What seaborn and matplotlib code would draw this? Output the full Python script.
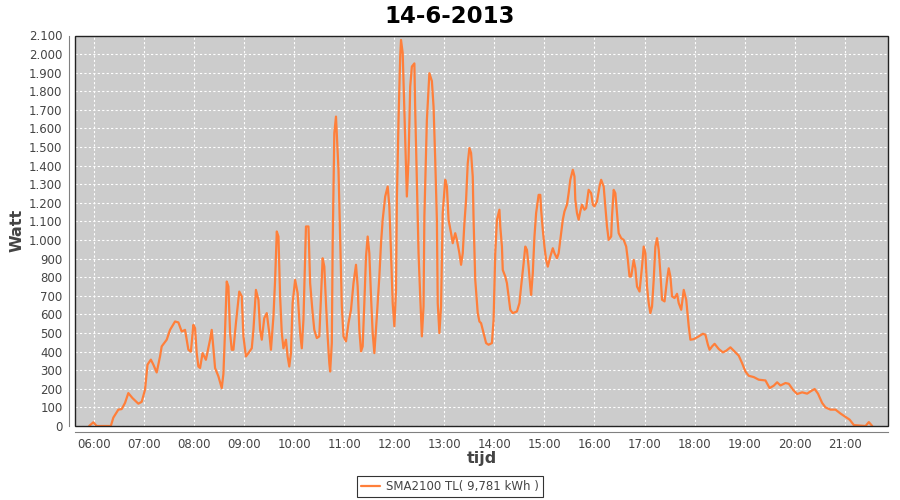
import numpy as np
import pandas as pd
import seaborn as sns
import matplotlib.pyplot as plt
import matplotlib.dates as mdates
import matplotlib.ticker as mticker
from matplotlib.patches import Rectangle

# data (time of day, watt)
times = ["05:54", "05:59", "06:03", "06:20", "06:23", "06:29", "06:33", "06:37", "06:41", "06:46",
         "06:53", "06:57", "07:01", "07:04", "07:08", "07:11", "07:15", "07:19", "07:21", "07:27",
         "07:31", "07:37", "07:41", "07:45", "07:49", "07:53", "07:56", "07:59", "08:01", "08:03",
         "08:05", "08:07", "08:10", "08:14", "08:19", "08:21", "08:23", "08:25", "08:29", "08:33",
         "08:35", "08:37", "08:39", "08:41", "08:43", "08:45", "08:47", "08:50", "08:54", "08:57",
         "08:59", "09:02", "09:05", "09:09", "09:11", "09:14", "09:17", "09:19", "09:21", "09:24",
         "09:27", "09:30", "09:32", "09:35", "09:37", "09:39", "09:41", "09:43", "09:45", "09:47",
         "09:50", "09:52", "09:54", "09:56", "09:58", "10:01", "10:04", "10:07", "10:09", "10:11",
         "10:13", "10:14", "10:17", "10:19", "10:22", "10:24", "10:27", "10:30", "10:32", "10:34",
         "10:36", "10:38", "10:40", "10:42", "10:43", "10:45", "10:46", "10:48", "10:50", "10:53",
         "10:55", "10:57", "10:59", "11:02", "11:05", "11:08", "11:11", "11:14", "11:16", "11:18",
         "11:20", "11:22", "11:24", "11:26", "11:28", "11:30", "11:32", "11:34", "11:36", "11:39",
         "11:42", "11:44", "11:46", "11:49", "11:52", "11:54", "11:56", "11:58", "12:00", "12:02",
         "12:03", "12:05", "12:07", "12:08", "12:10", "12:12", "12:14", "12:15", "12:17", "12:19",
         "12:21", "12:24", "12:25", "12:27", "12:29", "12:31", "12:33", "12:35", "12:36", "12:39",
         "12:42", "12:45", "12:47", "12:49", "12:51", "12:52", "12:54", "12:56", "12:58", "13:01",
         "13:03", "13:05", "13:08", "13:10", "13:13", "13:15", "13:18", "13:20", "13:22", "13:24",
         "13:26", "13:28", "13:30", "13:32", "13:34", "13:35", "13:37", "13:40", "13:42", "13:44",
         "13:47", "13:50", "13:53", "13:57", "13:59", "14:01", "14:03", "14:06", "14:07", "14:09",
         "14:10", "14:13", "14:15", "14:17", "14:19", "14:22", "14:27", "14:30", "14:32", "14:35",
         "14:37", "14:39", "14:41", "14:43", "14:44", "14:46", "14:48", "14:50", "14:53", "14:55",
         "14:56", "14:58", "15:00", "15:02", "15:04", "15:07", "15:10", "15:12", "15:15", "15:17",
         "15:19", "15:22", "15:24", "15:27", "15:29", "15:31", "15:34", "15:36", "15:37", "15:39",
         "15:41", "15:43", "15:45", "15:48", "15:50", "15:53", "15:56", "15:58", "16:00", "16:03",
         "16:06", "16:08", "16:11", "16:13", "16:15", "16:17", "16:20", "16:21", "16:23", "16:25",
         "16:27", "16:29", "16:32", "16:35", "16:38", "16:40", "16:42", "16:44", "16:47", "16:49",
         "16:51", "16:54", "16:57", "16:59", "17:01", "17:03", "17:05", "17:07", "17:09", "17:11",
         "17:13", "17:15", "17:17", "17:19", "17:21", "17:24", "17:27", "17:29", "17:31", "17:33",
         "17:36", "17:39", "17:41", "17:44", "17:47", "17:50", "17:53", "17:55", "17:59", "18:05",
         "18:10", "18:13", "18:16", "18:18", "18:21", "18:24", "18:29", "18:34", "18:38", "18:43",
         "18:47", "18:53", "18:57", "19:01", "19:05", "19:11", "19:17", "19:25", "19:30", "19:35",
         "19:39", "19:43", "19:49", "19:53", "19:58", "20:03", "20:09", "20:15", "20:19", "20:24",
         "20:28", "20:33", "20:37", "20:43", "20:49", "20:55", "21:01", "21:06", "21:11", "21:25",
         "21:29", "21:33"]
watt = [0, 20, 0, 0, 45, 88, 91, 124, 177, 150,
        120, 130, 195, 330, 357, 330, 288, 374, 428, 464,
        517, 562, 557, 508, 517, 410, 400, 544, 526, 392,
        320, 312, 392, 356, 464, 517, 418, 312, 267, 204,
        280, 517, 777, 750, 500, 410, 410, 553, 723, 697,
        482, 374, 392, 418, 517, 732, 678, 517, 464, 580,
        607, 500, 410, 589, 786, 1046, 1019, 697, 500, 418,
        464, 374, 320, 392, 661, 786, 714, 500, 418, 572,
        911, 1073, 1073, 768, 607, 517, 473, 482, 697, 902,
        857, 661, 482, 338, 293, 446, 965, 1575, 1664, 1378,
        1019, 643, 482, 455, 553, 625, 768, 867, 750, 517,
        401, 428, 661, 911, 1019, 929, 697, 500, 392, 589,
        804, 983, 1109, 1234, 1288, 1180, 930, 661, 536, 732,
        1216, 1646, 1986, 2076, 2005, 1700, 1378, 1234, 1432, 1825,
        1933, 1950, 1700, 1324, 930, 697, 482, 643, 1127, 1646,
        1897, 1855, 1718, 1432, 1109, 661, 500, 643, 1145, 1324,
        1288, 1109, 1037, 983, 1037, 1001, 929, 867, 929, 1091,
        1216, 1413, 1495, 1468, 1342, 1109, 786, 607, 562, 553,
        500, 446, 437, 446, 572, 929, 1109, 1163, 1073, 965,
        839, 804, 768, 697, 625, 607, 616, 661, 750, 875,
        965, 947, 857, 750, 705, 822, 1019, 1145, 1243, 1243,
        1163, 1055, 965, 893, 857, 911, 956, 929, 902, 929,
        1001, 1109, 1154, 1190, 1252, 1324, 1378, 1342, 1216, 1145,
        1109, 1154, 1190, 1163, 1172, 1270, 1252, 1190, 1181, 1207,
        1288, 1324, 1288, 1181, 1073, 1001, 1019, 1127, 1270, 1252,
        1145, 1037, 1010, 1001, 965, 893, 804, 804, 893, 848,
        750, 723, 857, 965, 929, 750, 661, 607, 643, 786,
        965, 1010, 947, 822, 679, 670, 786, 848, 804, 697,
        688, 711, 661, 625, 732, 679, 536, 464, 467, 482,
        496, 491, 437, 410, 428, 442, 414, 396, 405, 423,
        405, 378, 338, 293, 270, 263, 249, 245, 204, 217,
        235, 218, 231, 227, 195, 172, 181, 174, 186, 199,
        174, 124, 100, 88, 88, 67, 49, 34, 5, 0,
        21, 0]

series_name = "SMA2100 TL( 9,781 kWh )"
title = "14-6-2013"
day = "2013-06-14 "

df = pd.DataFrame({"tijd": pd.to_datetime([day + t for t in times]), "Watt": watt})

sns.set_style("white")
plt.rcParams["font.family"] = ["DejaVu Sans"]

fig = plt.figure(figsize=(9, 5), dpi=100)
ax = fig.add_axes([0.0833, 0.148, 0.9034, 0.781])
ax.set_facecolor("#cccccc")

sns.lineplot(data=df, x="tijd", y="Watt", ax=ax, color="#ff7f3a", linewidth=1.6,
             estimator=None, sort=False, label=series_name, legend=False)

ax.set_ylim(0, 2100)
ax.set_xlim(pd.Timestamp(day + "05:37"), pd.Timestamp(day + "21:52"))
ax.yaxis.set_major_locator(mticker.MultipleLocator(100))
ax.yaxis.set_major_formatter(mticker.FuncFormatter(lambda v, p: f"{int(v):,}".replace(",", ".")))
ax.xaxis.set_major_locator(mdates.HourLocator())
ax.xaxis.set_major_formatter(mdates.DateFormatter("%H:%M"))

ax.grid(True, color="white", linestyle=(0, (2, 2)), linewidth=0.8)
ax.set_axisbelow(True)

for s in ["top", "right"]:
    ax.spines[s].set_visible(False)
for s in ["left", "bottom"]:
    ax.spines[s].set_position(("outward", 4))
    ax.spines[s].set_color("#808080")
ax.add_patch(Rectangle((0, 0), 1, 1, transform=ax.transAxes, fill=False,
                       edgecolor="#222222", linewidth=1.0, clip_on=False, zorder=5))

ax.tick_params(axis="both", direction="out", length=3, width=0.8, color="#808080",
               labelsize=8.5, labelcolor="#444444", pad=2)
ax.set_xlabel("tijd", fontsize=11.5, fontweight="bold", color="#444444", labelpad=0)
ax.set_ylabel("Watt", fontsize=11.5, fontweight="bold", color="#444444", labelpad=3)
fig.suptitle(title, fontsize=16.5, fontweight="bold", color="black", y=0.99)

leg = fig.legend(loc="lower center", bbox_to_anchor=(0.5, -0.006), fontsize=8.5, frameon=True,
                 fancybox=False, handlelength=1.6, borderpad=0.35, handletextpad=0.5)
leg.get_frame().set_edgecolor("black")
leg.get_frame().set_linewidth(0.8)
for t in leg.get_texts():
    t.set_color("#444444")

fig.savefig("out.png", dpi=100)
